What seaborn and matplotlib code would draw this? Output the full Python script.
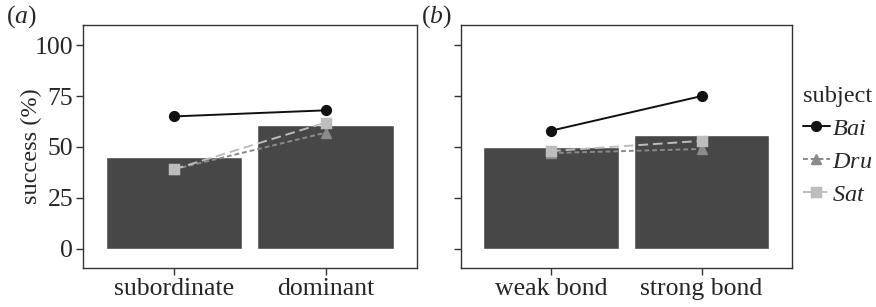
import pandas as pd
import seaborn as sns
import matplotlib.pyplot as plt

# --- data ---
rank_cats = ['subordinate', 'dominant']
rank_bars = [45, 61]
bond_cats = ['weak bond', 'strong bond']
bond_bars = [50, 56]

subjects = ['Bai', 'Dru', 'Sat']
rank_bai = [65, 68]
rank_dru = [39, 57]
rank_sat = [39, 62]
bond_bai = [58, 75]
bond_dru = [47, 49]
bond_sat = [48, 53]

yticks = [0, 25, 50, 75, 100]

sns.set_style('white')
plt.rcParams['font.family'] = ['Liberation Serif', 'DejaVu Serif']
plt.rcParams['mathtext.fontset'] = 'custom'
plt.rcParams['mathtext.rm'] = 'Liberation Serif'
plt.rcParams['mathtext.it'] = 'Liberation Serif:italic'

FS = 18.5
palette = {'Bai': '#111111', 'Dru': '#8a8a8a', 'Sat': '#bdbdbd'}
markers = ['o', '^', 's']
linestyles = ['-', (0, (2.5, 1.5)), (0, (5, 2.5))]


def long_points(cats, bai, dru, sat):
    rows = []
    for subj, vals in zip(subjects, [bai, dru, sat]):
        for c, v in zip(cats, vals):
            rows.append({'cond': c, 'subject': subj, 'success': v})
    return pd.DataFrame(rows)


fig = plt.figure(figsize=(8.76, 3.07), dpi=100)
ax_a = fig.add_axes([0.0947, 0.127, 0.381, 0.792])
ax_b = fig.add_axes([0.526, 0.127, 0.378, 0.792])

panels = [
    (ax_a, rank_cats, rank_bars, rank_bai, rank_dru, rank_sat, 'a', -0.23),
    (ax_b, bond_cats, bond_bars, bond_bai, bond_dru, bond_sat, 'b', -0.12),
]

for ax, cats, bars, bai, dru, sat, letter, lx in panels:
    bar_df = pd.DataFrame({'cond': cats, 'success': bars})
    sns.barplot(data=bar_df, x='cond', y='success', color='#474747',
                width=0.9, saturation=1, ax=ax)
    pts = long_points(cats, bai, dru, sat)
    sns.pointplot(data=pts, x='cond', y='success', hue='subject',
                  hue_order=subjects, palette=palette, markers=markers,
                  linestyles=linestyles, dodge=False, errorbar=None,
                  markersize=7, linewidth=1.4, ax=ax)
    ax.set_xlim(-0.6, 1.6)
    ax.set_ylim(-9.5, 110)
    ax.set_yticks(yticks)
    ax.set_xlabel('')
    ax.set_ylabel('')
    for s in ax.spines.values():
        s.set_visible(True)
        s.set_color('#333333')
        s.set_linewidth(1.0)
    ax.tick_params(axis='both', direction='out', length=5, width=1,
                   color='#333333', labelsize=FS, pad=2,
                   bottom=True, left=True)
    ax.text(lx, 1.09, r'($\mathit{%s}$)' % letter,
            transform=ax.transAxes, fontsize=FS, va='top', ha='left')

handles, labels = ax_b.get_legend_handles_labels()
ax_a.get_legend().remove()
ax_b.get_legend().remove()
ax_b.set_yticklabels([])

ax_a.set_ylabel('success (%)', fontsize=17.5)
ax_a.yaxis.set_label_coords(-0.124, 0.5)

leg = fig.legend(handles, [r'$\mathit{%s}$' % l for l in labels],
                 title='subject', loc='center left',
                 bbox_to_anchor=(0.911, 0.525), frameon=False,
                 fontsize=17.5, title_fontsize=17.5, handlelength=1.1,
                 handletextpad=0.1, labelspacing=0.45, borderpad=0.1,
                 borderaxespad=0.1)
leg._legend_box.align = 'left'

fig.savefig('out.png', dpi=100, facecolor='white')
